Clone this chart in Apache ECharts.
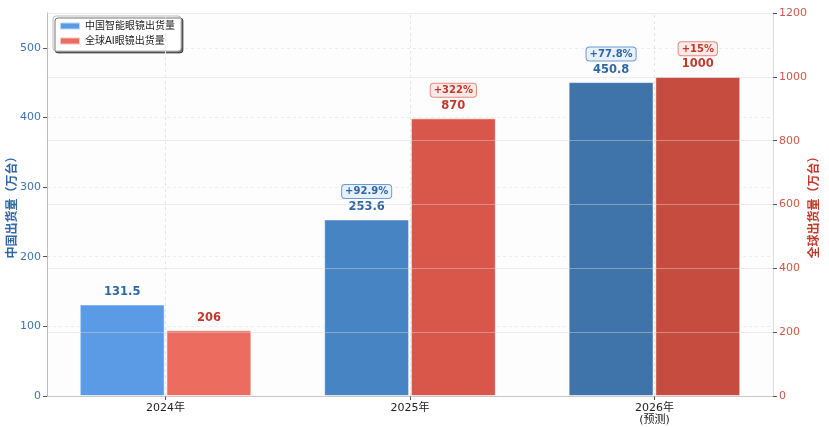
<!DOCTYPE html>
<html>
<head>
<meta charset="utf-8">
<script src="https://cdn.jsdelivr.net/npm/echarts@6/dist/echarts.min.js"></script>
<style>
  html, body { margin: 0; padding: 0; background: #fff; }
  #chart { width: 829px; height: 427px; }
</style>
</head>
<body>
<div id="chart"></div>
<script>
// 数据
var years = ["2024年", "2025年", "2026年\n(预测)"];
var chinaShip = [131.5, 253.6, 450.8];
var globalShip = [206, 870, 1000];
var chinaGrowth = ["", "+92.9%", "+77.8%"];
var globalGrowth = ["", "+322%", "+15%"];
var leftTicks = [0, 100, 200, 300, 400, 500];
var yearPos = years.map(function (y, i) { return i; });

var blueColors = ["#5b9be5", "#4684c4", "#3e74aa"];
var redColors = ["#ec6c5f", "#d9574a", "#c64c3f"];

var FONT = "'DejaVu Sans', 'Noto Sans CJK SC', sans-serif";

function makeData(values, colors) {
  return values.map(function (v, i) {
    return { value: [yearPos[i], v], itemStyle: { color: colors[i] } };
  });
}

function makeLabel(growth, textColor, badgeBg, badgeBorder) {
  return {
    show: true,
    position: "top",
    distance: 4,
    fontFamily: FONT,
    formatter: function (p) {
      var g = growth[p.dataIndex];
      var v = "{val|" + p.value[1] + "}";
      return g ? "{badge|" + g + "}\n" + v : v;
    },
    rich: {
      val: {
        color: textColor,
        fontSize: 11.5,
        fontWeight: "bold",
        fontFamily: FONT,
        lineHeight: 17
      },
      badge: {
        color: textColor,
        fontSize: 10,
        fontWeight: "bold",
        fontFamily: FONT,
        backgroundColor: badgeBg,
        borderColor: badgeBorder,
        borderWidth: 1,
        borderRadius: 3,
        padding: [2, 3, 1, 3],
        lineHeight: 14
      }
    }
  };
}

var chart = echarts.init(document.getElementById("chart"));
chart.setOption({
  animation: false,
  textStyle: { fontFamily: FONT },
  grid: {
    left: 47, right: 56, top: 13, bottom: 31,
    outerBoundsMode: "none",
    containLabel: false,
    show: true, backgroundColor: "#fdfdfd", borderWidth: 0
  },
  legend: {
    orient: "vertical",
    left: 53, top: 16,
    itemWidth: 20, itemHeight: 7, itemGap: 5,
    padding: [5, 6, 5, 6],
    backgroundColor: "#fff",
    borderColor: "#bbb", borderWidth: 1, borderRadius: 3,
    shadowColor: "rgba(0,0,0,0.55)", shadowOffsetX: 2, shadowOffsetY: 2, shadowBlur: 0,
    icon: "rect",
    textStyle: { fontSize: 10, color: "#222", fontFamily: FONT },
    data: ["中国智能眼镜出货量", "全球AI眼镜出货量"]
  },
  xAxis: {
    type: "value",
    min: -0.485, max: 2.485,
    axisLine: { show: true, onZero: false, lineStyle: { color: "#bbb" } },
    axisTick: { show: true, length: 4, customValues: yearPos, lineStyle: { color: "#555" } },
    axisLabel: {
      color: "#222", fontSize: 11, margin: 6, lineHeight: 12, fontFamily: FONT,
      customValues: yearPos,
      formatter: function (v) { return years[Math.round(v)]; }
    },
    splitLine: { show: false }
  },
  yAxis: [
    {
      type: "value",
      min: 0, max: 550,
      name: "中国出货量（万台）",
      nameLocation: "middle",
      nameGap: 28,
      nameMoveOverlap: false,
      nameTextStyle: { color: "#2f67a6", fontSize: 12, fontWeight: "bold", fontFamily: FONT },
      axisLine: { show: true, onZero: false, lineStyle: { color: "#bbb" } },
      axisTick: { show: true, length: 4, customValues: leftTicks, lineStyle: { color: "#555" } },
      axisLabel: { color: "#3f73b0", fontSize: 11, margin: 6, customValues: leftTicks, fontFamily: FONT },
      splitLine: { show: true, lineStyle: { color: "#ececec", type: [3, 3] } }
    },
    {
      type: "value",
      min: 0, max: 1200, interval: 200,
      name: "全球出货量（万台）",
      nameLocation: "middle",
      nameGap: 36,
      nameRotate: 90,
      nameMoveOverlap: false,
      nameTextStyle: { color: "#c0392b", fontSize: 12, fontWeight: "bold", fontFamily: FONT },
      z: 5,
      axisLine: { show: true, onZero: false, lineStyle: { color: "#ddd" } },
      axisTick: { show: true, length: 4, lineStyle: { color: "#555" } },
      axisLabel: {
        color: "#d0564a", fontSize: 11, margin: 6, fontFamily: FONT,
        formatter: function (v) { return String(v); }
      },
      splitLine: { show: true, lineStyle: { color: "rgba(215,215,215,0.45)", width: 1 } }
    }
  ],
  series: [
    {
      name: "中国智能眼镜出货量",
      type: "bar",
      yAxisIndex: 0,
      barWidth: 85,
      barGap: "2%",
      itemStyle: { color: blueColors[0], borderColor: "rgba(255,255,255,0.6)", borderWidth: 1 },
      data: makeData(chinaShip, blueColors),
      label: makeLabel(chinaGrowth, "#2f67a6", "#e8f0fa", "#6a9bd6")
    },
    {
      name: "全球AI眼镜出货量",
      type: "bar",
      yAxisIndex: 1,
      barWidth: 85,
      itemStyle: { color: redColors[0], borderColor: "rgba(255,255,255,0.6)", borderWidth: 1 },
      data: makeData(globalShip, redColors),
      label: makeLabel(globalGrowth, "#c0392b", "#fde9e7", "#e58a80")
    },
    {
      // 竖向网格线（年份中心）
      name: "grid-v",
      type: "line",
      z: 1,
      silent: true,
      data: [],
      markLine: {
        silent: true,
        symbol: "none",
        label: { show: false },
        lineStyle: { color: "#e6e6e6", type: [3, 3], width: 1 },
        data: yearPos.map(function (x) { return { xAxis: x }; })
      }
    }
  ]
});
</script>
</body>
</html>
